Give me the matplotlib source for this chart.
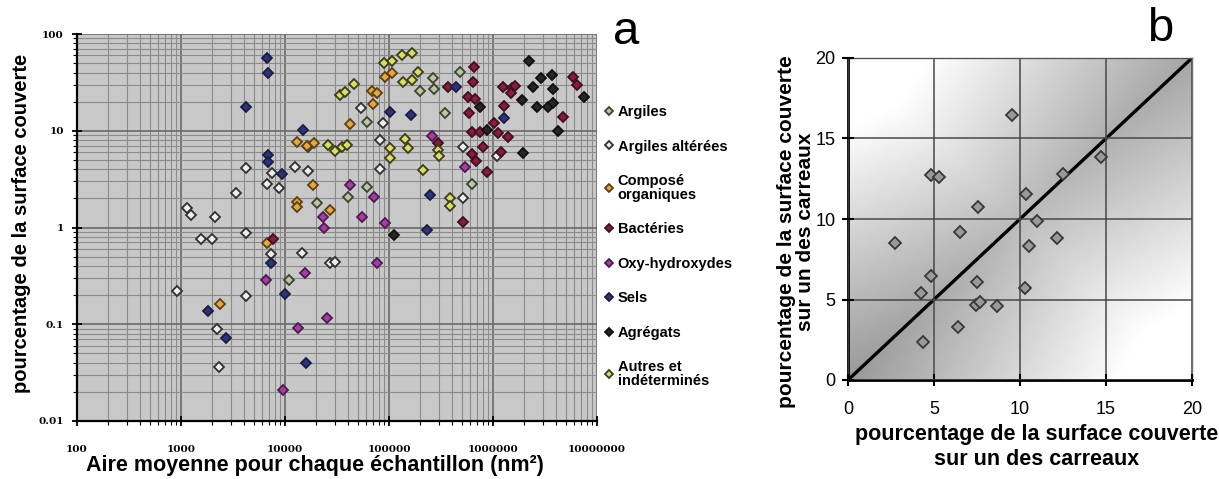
import numpy as np
import matplotlib
matplotlib.use("Agg")
import matplotlib.pyplot as plt
from matplotlib.ticker import LogLocator, FixedLocator, NullFormatter

# ------------------------------------------------------------------ #
#  Panel a : surface covered vs mean particle area, per particle type
# ------------------------------------------------------------------ #

argiles_x = [10900, 628000, 345000, 482000, 265000, 271000, 199000, 61400,
             20300, 40400, 61400, 16600]
argiles_y = [0.29, 2.82, 15.3, 40.5, 35.1, 27.0, 25.8, 12.3,
             1.79, 2.07, 2.63, 6.79]

alterees_x = [916, 1560, 1990, 4220, 7330, 14600, 27100, 30300, 2220, 4220,
              2320, 4220, 7500, 6710, 8760, 3380, 1140, 1250, 2120, 12500,
              16600, 81900, 81900, 53800, 87500, 515000, 1090000, 515000]
alterees_y = [0.22, 0.76, 0.76, 0.88, 0.53, 0.545, 0.43, 0.44, 0.089, 0.196,
              0.036, 4.12, 3.66, 2.82, 2.56, 2.27, 1.59, 1.35, 1.28, 4.22,
              3.84, 8.02, 4.02, 17.2, 12.0, 6.79, 5.48, 2.02]

organiques_x = [6710, 2370, 13000, 16300, 19000, 13000, 13000, 18600, 27100,
                42200, 70200, 68700, 76700, 91600, 107000]
organiques_y = [0.69, 0.162, 7.65, 6.96, 7.47, 1.83, 1.63, 2.75, 1.52,
                11.7, 18.9, 25.8, 24.6, 36.0, 39.5]

bacteries_x = [369000, 657000, 643000, 575000, 671000, 588000, 1250000,
               1520000, 1630000, 1490000, 1280000, 4710000, 5880000, 6420000,
               1020000, 1120000, 1390000, 628000, 750000, 802000, 628000,
               687000, 1190000, 876000, 515000, 296000, 7670]
bacteries_y = [28.3, 45.6, 31.9, 22.3, 21.3, 15.3, 28.3, 27.7, 29.0, 24.6,
               18.0, 13.9, 36.0, 29.7, 12.0, 9.48, 8.62, 9.7, 9.7, 6.79,
               5.75, 4.87, 6.03, 3.75, 1.14, 7.47, 0.76]

oxy_x = [6560, 15600, 13300, 25300, 9570, 23200, 23700, 76700, 42200, 71800,
         55000, 91600, 259000, 538000]
oxy_y = [0.29, 0.34, 0.091, 0.116, 0.021, 1.28, 0.99, 0.43, 2.75, 2.07,
         1.28, 1.11, 8.83, 4.22]

sels_x = [6710, 6870, 4220, 14900, 6870, 6870, 9360, 7330, 10000, 1820, 2710,
          15900, 102000, 163000, 248000, 232000, 441000, 1280000]
sels_y = [56.5, 39.5, 17.6, 10.2, 5.6, 4.75, 3.57, 0.43, 0.205, 0.137, 0.072,
          0.040, 15.6, 14.5, 2.17, 0.94, 28.3, 13.5]

agregats_x = [112000, 2220000, 750000, 1900000, 2420000, 2900000, 3690000,
              3780000, 2650000, 3380000, 3780000, 4220000, 7500000, 876000,
              1940000]
agregats_y = [0.84, 52.6, 17.6, 20.8, 28.3, 35.1, 37.7, 27.0, 17.6, 17.6,
              19.4, 9.94, 22.3, 10.2, 5.89]

autres_x = [25900, 30300, 35300, 39500, 33800, 37800, 46100, 89500, 107000,
            133000, 166000, 136000, 166000, 190000, 102000, 102000, 143000,
            152000, 212000, 296000, 303000, 386000, 386000]
autres_y = [7.12, 6.18, 6.79, 7.12, 23.4, 25.2, 30.4, 50.1, 52.6, 60.6, 63.7,
            31.9, 33.5, 40.5, 6.63, 5.23, 8.22, 6.63, 3.93, 6.32, 5.48, 2.02,
            1.67]

categories = ["Argiles", "Argiles altérées", "Composé\norganiques", "Bactéries",
              "Oxy-hydroxydes", "Sels", "Agrégats", "Autres et\nindéterminés"]
series_x = [argiles_x, alterees_x, organiques_x, bacteries_x, oxy_x, sels_x,
            agregats_x, autres_x]
series_y = [argiles_y, alterees_y, organiques_y, bacteries_y, oxy_y, sels_y,
            agregats_y, autres_y]
face_colors = ["#b8c8a0", "#eeeeee", "#e8a838", "#8c1c3c", "#a83ca8",
               "#2c3480", "#262626", "#d8e060"]
edge_colors = ["#3c4430", "#303030", "#5a4018", "#3c1020", "#4c1c4c",
               "#1c1c3c", "#101010", "#3c3c20"]

# ------------------------------------------------------------------ #
#  Panel b : coverage on one tile vs coverage on another tile
# ------------------------------------------------------------------ #

tile1 = [2.71, 4.22, 4.36, 4.84, 4.84, 5.29, 6.49, 6.40, 7.56, 7.50, 7.46,
         7.69, 8.68, 9.55, 10.37, 10.31, 10.52, 10.99, 12.15, 12.5, 14.69]
tile2 = [8.54, 5.39, 2.38, 6.47, 12.75, 12.6, 9.18, 3.27, 10.74, 6.11, 4.66,
         4.87, 4.62, 16.43, 11.54, 5.74, 8.33, 9.89, 8.81, 12.81, 13.84]

plt.rcParams["font.family"] = ["Liberation Sans", "DejaVu Sans"]

W, H = 1219, 479
fig = plt.figure(figsize=(W / 100, H / 100), dpi=100)

# ---------------------------- panel a ----------------------------- #
ax = fig.add_axes([77 / W, 1 - 421 / H, 520 / W, 387 / H])
ax.set_facecolor("#c8c8c8")
ax.set_xscale("log")
ax.set_yscale("log")
ax.set_xlim(100, 1e7)
ax.set_ylim(0.01, 100)

for lab, xs, ys, fc, ec in zip(categories, series_x, series_y,
                               face_colors, edge_colors):
    ax.plot(xs, ys, linestyle="none", marker="D", markersize=5.4,
            markerfacecolor=fc, markeredgecolor=ec, markeredgewidth=1.3,
            label=lab, zorder=3)

ax.xaxis.set_minor_locator(LogLocator(base=10, subs=np.arange(2, 10), numticks=20))
ax.yaxis.set_minor_locator(LogLocator(base=10, subs=np.arange(2, 10), numticks=20))
ax.xaxis.set_minor_formatter(NullFormatter())
ax.yaxis.set_minor_formatter(NullFormatter())
xt = [100, 1000, 10000, 100000, 1000000, 10000000]
yt = [0.01, 0.1, 1, 10, 100]
ax.set_xticks(xt)
ax.set_xticklabels([str(v) for v in xt])
ax.set_yticks(yt)
ax.set_yticklabels(["0.01", "0.1", "1", "10", "100"])

ax.grid(which="major", color="#6a6a6a", linewidth=1.2)
ax.grid(which="minor", color="#8c8c8c", linewidth=0.8)
ax.set_axisbelow(True)
for side in ["top", "right"]:
    ax.spines[side].set_visible(False)
for side in ["left", "bottom"]:
    ax.spines[side].set_linewidth(1.6)
ax.tick_params(which="major", direction="inout", length=7, width=1.3,
               labelsize=7.5)
ax.tick_params(axis="x", which="major", pad=14)
ax.tick_params(axis="y", which="major", pad=6)
ax.tick_params(which="minor", direction="out", length=3, width=0.8)
for t in ax.get_xticklabels() + ax.get_yticklabels():
    t.set_family(["DejaVu Serif"])
    t.set_fontweight("bold")

fig.text(315 / W, 1 - 466 / H, "Aire moyenne pour chaque échantillon (nm²)",
         ha="center", va="center", fontsize=15.5, fontweight="bold")
fig.text(22 / W, 1 - 223 / H, "pourcentage de la surface couverte",
         ha="center", va="center", rotation=90, fontsize=14.5,
         fontweight="bold")
fig.text(626 / W, 1 - 32 / H, "a", ha="center", va="center", fontsize=34)

leg = ax.legend(loc="upper left", bbox_to_anchor=(592 / W, 1 - 92 / H),
                bbox_transform=fig.transFigure, frameon=False,
                handlelength=0.5, handletextpad=0.35, labelspacing=1.4,
                markerscale=0.75, prop={"size": 10.5, "weight": "bold"})
for t in leg.get_texts():
    t.set_linespacing(1.0)

# ---------------------------- panel b ----------------------------- #
bx = fig.add_axes([848 / W, 1 - 380 / H, 344 / W, 322 / H])
gx, gy = np.meshgrid(np.linspace(0, 20, 200), np.linspace(0, 20, 200))
shade = (0.6 + 0.37 * np.abs(gx - gy) / 20
         + 0.11 * (1 - np.abs(gx + gy - 20) / 20)
         + 0.05 * (gx + gy) / 40)
shade = np.clip(shade, 0, 1)
bx.imshow(shade, extent=[0, 20, 0, 20], origin="lower", cmap="gray",
          vmin=0, vmax=1, aspect="auto", zorder=0, interpolation="bilinear")
bx.set_xlim(0, 20)
bx.set_ylim(0, 20)
bx.xaxis.set_major_locator(FixedLocator([0, 5, 10, 15, 20]))
bx.yaxis.set_major_locator(FixedLocator([0, 5, 10, 15, 20]))
bx.grid(color="#484848", linewidth=1.1, zorder=1)
bx.set_axisbelow(False)

bx.plot([0, 20], [0, 20], color="black", linewidth=2.4, zorder=2)
bx.plot(tile1, tile2, linestyle="none", marker="D", markersize=6.5,
        markerfacecolor="#9a9a9a", markeredgecolor="#383838",
        markeredgewidth=1.3, zorder=3)

for side in ["top", "right"]:
    bx.spines[side].set_color("#707070")
    bx.spines[side].set_linewidth(1.0)
for side in ["left", "bottom"]:
    bx.spines[side].set_linewidth(2.0)
bx.tick_params(direction="inout", length=8, width=1.5, labelsize=13)
bx.tick_params(axis="x", pad=11)
bx.tick_params(axis="y", pad=5)

fig.text(1037 / W, 1 - 447 / H,
         "pourcentage de la surface couverte\nsur un des carreaux",
         ha="center", va="center", fontsize=15.5, fontweight="bold",
         linespacing=1.25)
fig.text(796 / W, 1 - 232 / H,
         "pourcentage de la surface couverte\nsur un des carreaux",
         ha="center", va="center", rotation=90, fontsize=15,
         fontweight="bold", linespacing=0.95)
fig.text(1160 / W, 1 - 29 / H, "b", ha="center", va="center", fontsize=34)

fig.savefig("out.png", dpi=100)
